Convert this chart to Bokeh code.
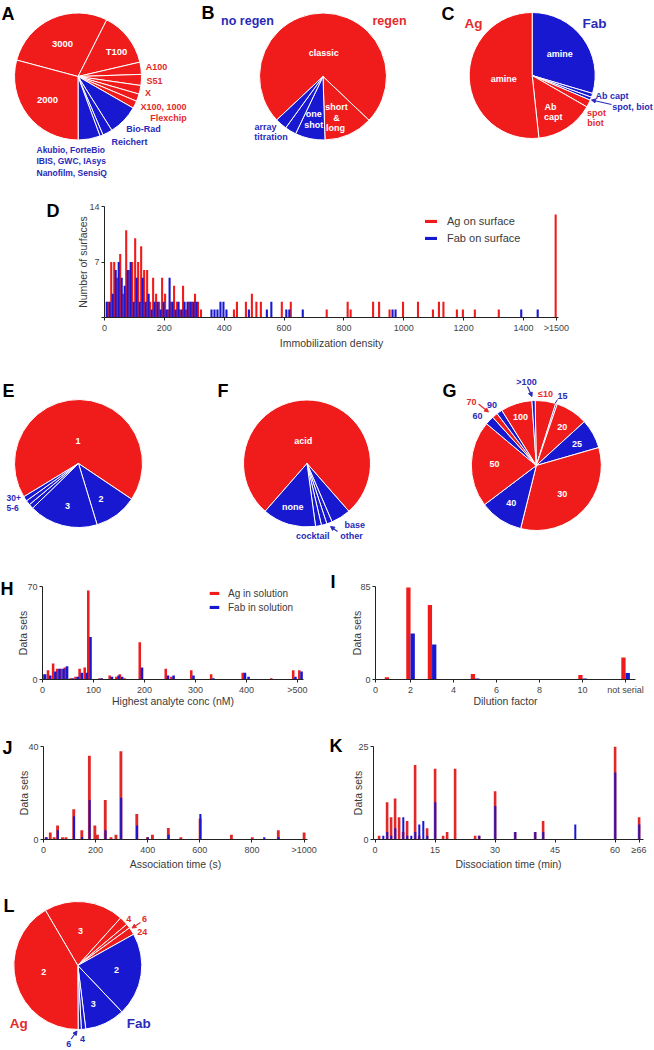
import numpy as np
from bokeh.plotting import figure
from bokeh.layouts import column, row
from bokeh.models import (Range1d, FixedTicker, Legend, LegendItem, Arrow,
                          NormalHead, ColumnDataSource)
from bokeh.core.properties import value
from bokeh.transform import dodge
from bokeh.embed import file_html
from bokeh.resources import INLINE

FONT = "Liberation Sans"
RED = "#f01c1c"
BLUE = "#1818d0"
RED_T = "#e32b2b"
BLUE_T = "#2a2ab8"
AX = "#222222"
TXT = "#3a3a3a"
GRP = {"r": RED, "b": BLUE}

# ------------------------------------------------------------------ DATA
# A  instruments (share of studies, %)
a_cat = ["3000", "T100", "A100", "S51", "X", "X100, 1000", "Flexchip",
         "Bio-Rad", "Reichert", "other", "Akubio, ForteBio, IBIS, GWC, IAsys, Nanofilm, SensiQ", "2000"]
a_share = [28.3, 13.9, 3.1, 2.8, 2.2, 1.9, 1.9, 7.8, 2.5, 0.8, 5.6, 29.2]
a_grp = ["r", "r", "r", "r", "r", "r", "r", "b", "b", "b", "b", "r"]

# B  regeneration
b_cat = ["classic", "short & long", "one shot", "array", "titration"]
b_share = [74.1, 12.4, 7.6, 2.9, 3.0]
b_grp = ["r", "r", "b", "b", "b"]

# C  immobilization chemistry
c_cat = ["Fab amine", "Fab Ab capt", "Fab spot, biot", "Ag spot biot", "Ag Ab capt", "Ag amine"]
c_share = [29.6, 1.0, 0.8, 1.9, 15.0, 51.7]
c_grp = ["b", "b", "b", "r", "r", "r"]

# D  immobilization density histogram
d_ag_x = [15, 25, 35, 45, 55, 65, 75, 85, 95, 105, 115, 125, 135, 145, 155, 165,
          175, 185, 195, 205, 215, 225, 235, 245, 255, 265, 275, 285, 295, 305, 315, 325,
          435, 445, 475, 495, 510, 525, 595, 625, 745, 815, 825, 900, 920, 955, 1000,
          1050, 1100, 1120, 1135, 1180, 1200, 1240, 1320, 1510]
d_ag_n = [2, 7, 7, 5, 8, 3, 11, 6, 7, 10, 7, 9, 6, 6, 2, 5,
          3, 2, 5, 3, 1, 2, 4, 2, 1, 4, 1, 2, 2, 3, 2, 1,
          1, 2, 2, 3, 2, 2, 2, 2, 1, 2, 1, 2, 2, 1, 2,
          2, 1, 2, 2, 1, 1, 1, 1, 13]
d_fab_x = [5, 15, 25, 35, 45, 55, 65, 75, 85, 95, 105, 115, 125, 135, 145, 155,
           165, 175, 185, 195, 205, 215, 225, 235, 245, 255, 265, 275, 285, 295, 305,
           355, 365, 375, 385, 395, 405, 480, 540, 555, 605, 615, 660, 960, 970, 1390, 1445]
d_fab_n = [2, 2, 3, 6, 7, 5, 4, 6, 7, 2, 5, 2, 5, 2, 3, 1,
           2, 2, 1, 2, 1, 5, 2, 1, 2, 1, 2, 2, 2, 2, 2,
           1, 1, 1, 2, 2, 1, 1, 1, 2, 1, 1, 1, 1, 1, 1, 1]
d_ticks = [0, 200, 400, 600, 800, 1000, 1200, 1400, 1510]
d_tick_labels = {1510: ">1500"}

# E  number of surfaces
e_cat = ["1", "2", "3", "4", "5-6", "30+"]
e_share = [68.1, 10.9, 17.4, 1.2, 1.2, 1.2]
e_grp = ["r", "b", "b", "b", "b", "b"]

# F  regeneration solution
f_cat = ["acid", "base", "other", "misc", "cocktail", "none"]
f_share = [77.1, 5.0, 1.4, 1.4, 1.5, 13.6]
f_grp = ["r", "b", "b", "b", "b", "b"]

# G  flow rate
g_cat = ["\u226410", "15", "20", "25", "30", "40", "50", "60", "70", "90", "100", ">100"]
g_share = [5.1, 0.4, 8.0, 7.3, 33.3, 10.8, 21.4, 2.2, 1.4, 1.4, 7.8, 0.8]
g_grp = ["r", "b", "r", "b", "r", "b", "r", "b", "r", "b", "r", "b"]

# H  highest analyte concentration
h_conc = [3, 13, 23, 31, 39, 46, 57, 67, 75, 85, 92, 114, 134, 147, 154, 163,
          193, 244, 255, 294, 333, 395, 402, 451, 494, 506]
h_ag = [4, 7, 12, 8, 8, 9, 1, 2, 8, 9, 67, 1, 3, 2, 4, 1, 28, 8, 2, 7, 4, 5, 0, 1, 7, 7]
h_fab = [4, 3, 6, 8, 8, 10, 1, 2, 5, 5, 32, 1, 2, 3, 2, 0, 9, 3, 3, 3, 1, 5, 2, 0, 2, 6]
h_ticks = [0, 100, 200, 300, 400, 500]
h_tick_labels = {500: ">500"}

# I  dilution factor
i_pos = [1, 2, 3, 5, 10, 12]
i_ag = [2, 84, 68, 5, 4, 20]
i_fab = [0, 42, 32, 1, 1, 6]
i_ticks = [0.37, 2, 4, 6, 8, 10, 12]
i_tick_labels = {0.37: "0", 12: "not serial"}

# J  association time (s)
j_t = [10, 26, 41, 54, 73, 86, 116, 147, 176, 197, 207, 237, 259, 278, 297, 358,
       399, 418, 479, 527, 601, 721, 801, 846, 901, 1000]
j_ag = [1, 3, 1, 6, 1, 1, 13, 4, 36, 6, 2, 17, 1, 2, 38, 11, 1, 2, 5, 1, 9, 2, 1, 0, 4, 3]
j_fab = [1, 0, 0, 4, 0, 0, 10, 1, 17, 0, 0, 4, 0, 0, 18, 6, 1, 0, 2, 0, 11, 0, 0, 1, 1, 0]
j_ticks = [0, 200, 400, 600, 800, 1000]
j_tick_labels = {1000: ">1000"}

# K  dissociation time (min)
k_t = [1, 2, 3, 4, 5, 6, 7, 8, 9, 10, 11, 12, 13, 15, 17, 18, 20, 25, 26, 30, 35, 40, 42, 50, 60, 66]
k_ag = [1, 0, 10, 6, 11, 6, 2, 5, 0, 20, 1, 0, 3, 19, 1, 2, 19, 1, 1, 13, 2, 2, 5, 0, 25, 6]
k_fab = [0, 1, 2, 1, 3, 0, 6, 1, 1, 2, 4, 5, 1, 10, 0, 0, 0, 0, 1, 9, 2, 2, 2, 4, 18, 4]
k_ticks = [0, 15, 30, 45, 60, 66]
k_tick_labels = {66: "\u226566"}

# L  fold dilution / series
l_cat = ["Ag 3", "Ag 4", "Ag 6", "Ag 24", "Fab 2", "Fab 3", "Fab 4", "Fab 6", "Ag 2"]
l_share = [20.1, 2.2, 1.1, 1.9, 21.0, 10.1, 1.1, 0.8, 41.6]
l_grp = ["r", "r", "r", "r", "b", "b", "b", "b", "r"]


# ------------------------------------------------------------------ helpers
class Canvas:
    """A figure whose data units are pixels; positions given in page pixels."""
    def __init__(self, x0, y0, w, h):
        self.x0, self.y0, self.w, self.h = x0, y0, w, h
        p = figure(width=w, height=h, x_range=Range1d(0, w), y_range=Range1d(0, h),
                   x_axis_location=None, y_axis_location=None, toolbar_location=None,
                   output_backend="svg", min_border=0, min_border_left=0,
                   min_border_right=0, min_border_top=0, min_border_bottom=0)
        p.outline_line_color = None
        p.grid.visible = False
        self.p = p

    def X(self, px):
        return px - self.x0

    def Y(self, py):
        return self.y0 + self.h - py

    def pie(self, cx, cy, r, shares, grp, start_deg):
        tot = float(sum(shares))
        cum = np.concatenate([[0.0], np.cumsum(shares)]) / tot * 360.0
        th0 = start_deg + cum[:-1]
        th1 = start_deg + cum[1:]
        src = ColumnDataSource(dict(s=np.radians(90.0 - th1), e=np.radians(90.0 - th0),
                                    c=[GRP[g] for g in grp]))
        self.p.wedge(x=self.X(cx), y=self.Y(cy), radius=r, start_angle="s", end_angle="e",
                     fill_color="c", line_color="white", line_width=1, source=src)

    def text(self, items, color, size, bold=True, align="center", baseline="middle"):
        self.p.text(x=[self.X(i[1]) for i in items], y=[self.Y(i[2]) for i in items],
                    text=[i[0] for i in items], text_color=color,
                    text_font=value(FONT), text_font_size=size,
                    text_font_style="bold" if bold else "normal",
                    text_align=align, text_baseline=baseline)

    def letter(self, t, px, py):
        self.text([(t, px, py)], "black", "18px", align="left", baseline="top")

    def arrow(self, x1, y1, x2, y2, color):
        self.p.add_layout(Arrow(end=NormalHead(size=4, fill_color=color, line_color=color),
                                x_start=self.X(x1), y_start=self.Y(y1),
                                x_end=self.X(x2), y_end=self.Y(y2),
                                line_color=color, line_width=1.2))


def bar_fig(w, h, xr, yr, mb, xticks, xover, yticks, yover, xlabel, ylabel,
            ylab_std=3, xlab_std=1):
    p = figure(width=w, height=h, x_range=Range1d(*xr), y_range=Range1d(*yr),
               toolbar_location=None, output_backend="svg",
               min_border_left=mb[0], min_border_right=mb[1],
               min_border_top=mb[2], min_border_bottom=mb[3])
    p.grid.visible = False
    p.outline_line_color = None
    for ax in p.axis:
        ax.axis_line_color = AX
        ax.major_tick_line_color = AX
        ax.minor_tick_line_color = None
        ax.major_tick_out = 3
        ax.major_tick_in = 0
        ax.major_label_text_font = FONT
        ax.major_label_text_font_size = "9px"
        ax.major_label_text_color = "#444444"
        ax.major_label_standoff = 2
        ax.axis_label_text_font = FONT
        ax.axis_label_text_font_size = "10.5px"
        ax.axis_label_text_font_style = "normal"
        ax.axis_label_text_color = TXT
    p.xaxis.ticker = FixedTicker(ticks=xticks)
    p.xaxis.major_label_overrides = xover
    p.yaxis.ticker = FixedTicker(ticks=yticks)
    p.yaxis.major_label_overrides = yover
    p.xaxis.axis_label = xlabel
    p.yaxis.axis_label = ylabel
    p.xaxis.axis_label_standoff = xlab_std
    p.yaxis.axis_label_standoff = ylab_std
    return p


def legend(p, items, loc, gw, lh, std, size):
    lg = Legend(items=[LegendItem(label=l, renderers=[r]) for l, r in items],
                location=loc, orientation="vertical", glyph_width=gw, glyph_height=4,
                label_height=lh, label_standoff=std, padding=0, spacing=0, margin=0,
                border_line_color=None, background_fill_alpha=0,
                label_text_font=FONT, label_text_font_size=size, label_text_color=TXT)
    p.add_layout(lg)


# ------------------------------------------------------------------ ROW 1 : A B C
r1 = Canvas(0, 0, 654, 180)
r1.pie(77.5, 76, 63.5, a_share, a_grp, -75)
r1.pie(322.5, 76, 63.5, b_share, b_grp, -133.2)
r1.pie(531.7, 75, 63, c_share, c_grp, 0)
r1.letter("A", 1, 3)
r1.letter("B", 201, 2)
r1.letter("C", 441, 3)
# A
r1.text([("3000", 62, 43), ("T100", 116, 51), ("2000", 47, 99)], "white", "9.5px")
r1.text([("A100", 156, 66.7), ("S51", 154, 80), ("X", 147.5, 92.7),
         ("X100, 1000", 163, 106.7), ("Flexchip", 168, 117.3)], RED_T, "9px")
r1.text([("Bio-Rad", 143, 128.3), ("Reichert", 129, 141)], BLUE_T, "9px")
r1.text([("Akubio, ForteBio", 36, 149), ("IBIS, GWC, IAsys", 36, 160.5),
         ("Nanofilm, SensiQ", 36, 172)], BLUE_T, "8.5px", align="left")
# B
r1.text([("no regen", 247, 20)], BLUE_T, "12.5px")
r1.text([("regen", 389, 20)], RED_T, "12.5px")
r1.text([("classic", 323.3, 52.3), ("short", 336, 106.7), ("&", 336, 117.3),
         ("long", 335, 127.7), ("one", 313.3, 113.3), ("shot", 313.3, 124.3)], "white", "9px")
r1.text([("array", 265, 126.7), ("titration", 270.5, 136)], BLUE_T, "9px")
# C
r1.text([("Ag", 473, 22.7)], RED_T, "13.5px")
r1.text([("Fab", 594, 22.7)], BLUE_T, "13.5px")
r1.text([("amine", 559.3, 53.3), ("amine", 503.3, 78.3), ("Ab", 550, 106),
         ("capt", 552.7, 116.7)], "white", "9px")
r1.text([("Ab capt", 611.5, 95.7), ("spot, biot", 632, 106)], BLUE_T, "9px")
r1.text([("spot", 596, 112.7), ("biot", 595, 122.7)], RED_T, "9px")
r1.arrow(611, 104, 591, 99.5, BLUE_T)

# ------------------------------------------------------------------ ROW 2 : D
cD = Canvas(0, 180, 60, 180)
cD.letter("D", 46, 200)
pD = bar_fig(594, 180, (0, 1517), (0, 14), (44, 96, 26, 43), d_ticks, d_tick_labels,
             [0, 7, 14], {0: ""}, "Immobilization density", "Number of surfaces",
             ylab_std=-3, xlab_std=1)
srcDa = ColumnDataSource(dict(x=d_ag_x, n=d_ag_n))
srcDf = ColumnDataSource(dict(x=d_fab_x, n=d_fab_n))
rDa = pD.vbar(x=dodge("x", -2.5), top="n", width=7, source=srcDa, fill_color=RED, line_color=None)
rDf = pD.vbar(x=dodge("x", 2.5), top="n", width=7, source=srcDf, fill_color=BLUE, line_color=None)
legend(pD, [("Ag on surface", rDa), ("Fab on surface", rDf)], (319, 70.5), 15, 17, 9, "11px")

# ------------------------------------------------------------------ ROW 3 : E F G
r3 = Canvas(0, 360, 654, 210)
r3.pie(78, 463, 64, e_share, e_grp, 238.7)
r3.pie(306.5, 463, 63.5, f_share, f_grp, 221.2)
r3.pie(535.8, 465, 65, g_share, g_grp, -1)
r3.letter("E", 2, 380)
r3.letter("F", 217, 380)
r3.letter("G", 442, 380)
# E
r3.text([("1", 77.6, 440), ("3", 67, 505), ("2", 100.6, 498.3)], "white", "9px")
r3.text([("30+", 6, 497), ("5-6", 6, 507)], BLUE_T, "8.5px", align="left")
# F
r3.text([("acid", 302.7, 440.7), ("none", 292.2, 506)], "white", "9px")
r3.text([("cocktail", 312.3, 535.7), ("other", 351, 535), ("base", 354.3, 524)], BLUE_T, "9px")
r3.arrow(337, 531, 330, 526, BLUE_T)
# G
r3.text([("100", 520, 416.7), ("20", 561.8, 426), ("25", 576.5, 443.3), ("50", 494, 463.3),
         ("30", 561.8, 493.3), ("40", 510.7, 502.7)], "white", "9px")
r3.text([(">100", 526, 381), ("15", 562, 395), ("90", 491.6, 404), ("60", 477, 415)],
        BLUE_T, "9px")
r3.text([("\u226410", 545, 393.3), ("70", 471, 401)], RED_T, "9px")
r3.arrow(527, 386, 531.5, 396, BLUE_T)
r3.arrow(478, 403.5, 488, 411.5, RED_T)
r3.p.segment(x0=[r3.X(557)], y0=[r3.Y(399)], x1=[r3.X(554.5)], y1=[r3.Y(403)],
             line_color=BLUE_T, line_width=1)

# ------------------------------------------------------------------ ROW 4 : H I
cH = Canvas(0, 570, 13, 142)
cH.letter("H", 0, 578)
pH = bar_fig(307, 142, (0, 512), (0, 70), (29, 17, 16, 33), h_ticks, h_tick_labels,
             [0, 70], {}, "Highest analyte conc (nM)", "Data sets", ylab_std=-5, xlab_std=-3)
srcH = ColumnDataSource(dict(x=h_conc, ag=h_ag, fab=h_fab))
rHa = pH.vbar(x=dodge("x", -2.2), top="ag", width=5, source=srcH, fill_color=RED, line_color=None)
rHf = pH.vbar(x=dodge("x", 2.2), top="fab", width=5, source=srcH, fill_color=BLUE, line_color=None)
legend(pH, [("Ag in solution", rHa), ("Fab in solution", rHf)], (166, 64.7), 12, 14, 8, "10px")

cI = Canvas(320, 570, 16, 142)
cI.letter("I", 330, 571)
pI = bar_fig(318, 142, (0.37, 12.46), (0, 85), (39, 19, 16, 33), i_ticks, i_tick_labels,
             [0, 85], {}, "Dilution factor", "Data sets", ylab_std=-6, xlab_std=-3)
srcI = ColumnDataSource(dict(x=i_pos, ag=i_ag, fab=i_fab))
pI.vbar(x=dodge("x", -0.1), top="ag", width=0.2, source=srcI, fill_color=RED, line_color=None)
pI.vbar(x=dodge("x", 0.1), top="fab", width=0.2, source=srcI, fill_color=BLUE, line_color=None)

# ------------------------------------------------------------------ ROW 5 : J K
cJ = Canvas(0, 712, 13, 160)
cJ.letter("J", 2, 737)
pJ = bar_fig(307, 160, (0, 1013), (0, 40), (30, 13, 34, 30), j_ticks, j_tick_labels,
             [0, 40], {}, "Association time (s)", "Data sets", ylab_std=-5, xlab_std=0)
srcJ = ColumnDataSource(dict(x=j_t, ag=j_ag, fab=j_fab))
pJ.vbar(x="x", top="ag", width=11, source=srcJ, fill_color="#e02828", line_color=None)
pJ.vbar(x=dodge("x", 1), top="fab", width=8, source=srcJ, fill_color=BLUE, line_color=None)

cK = Canvas(320, 712, 24, 160)
cK.letter("K", 329, 735)
pK = bar_fig(310, 160, (-0.4, 67.1), (0, 25), (29, 11, 34, 30), k_ticks, k_tick_labels,
             [0, 25], {}, "Dissociation time (min)", "Data sets", ylab_std=-9, xlab_std=0)
srcK = ColumnDataSource(dict(x=k_t, ag=k_ag, fab=k_fab))
pK.vbar(x="x", top="ag", width=0.65, source=srcK, fill_color="#e02828", line_color=None)
pK.vbar(x=dodge("x", 0.05), top="fab", width=0.5, source=srcK, fill_color=BLUE, line_color=None)

# ------------------------------------------------------------------ ROW 6 : L
r6 = Canvas(0, 872, 654, 176)
r6.pie(77.3, 965, 64, l_share, l_grp, -30.4)
r6.letter("L", 3, 895)
r6.text([("3", 80, 930), ("2", 43.3, 971.7), ("2", 116, 969.3), ("3", 92.7, 1003.3)],
        "white", "9px")
r6.text([("4", 128.3, 918.3), ("6", 144, 918.3), ("24", 141.7, 931.7)], RED_T, "9px")
r6.arrow(140, 922, 131.5, 927.5, RED_T)
r6.text([("Ag", 18.3, 1023.3)], RED_T, "13.5px")
r6.text([("Fab", 138.3, 1023.3)], BLUE_T, "13.5px")
r6.text([("4", 82, 1038), ("6", 68.3, 1043)], BLUE_T, "9px")
r6.arrow(70.7, 1038.5, 76.5, 1030.5, BLUE_T)

layout = column(
    row(r1.p),
    row(column(cD.p), column(pD)),
    row(r3.p),
    row(column(cH.p), column(pH), column(cI.p), column(pI)),
    row(column(cJ.p), column(pJ), column(cK.p), column(pK)),
    row(r6.p),
)

open("out.html", "w").write(file_html(layout, INLINE))
